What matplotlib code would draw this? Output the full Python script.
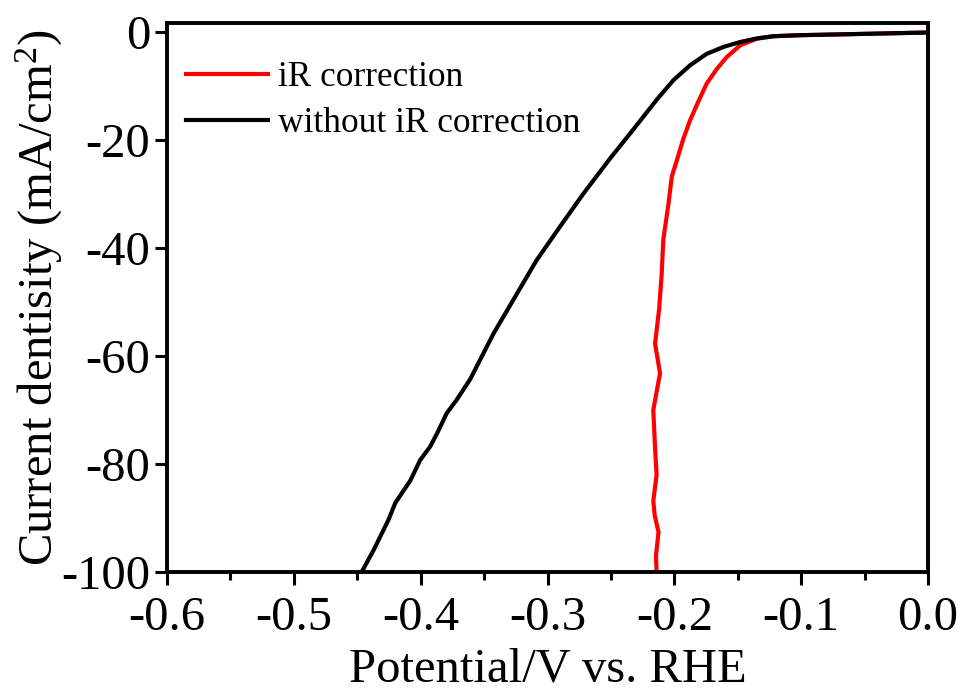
import matplotlib
matplotlib.use('Agg')
import matplotlib.pyplot as plt
from matplotlib.ticker import MultipleLocator, FormatStrFormatter

plt.rcParams['font.family'] = 'Liberation Serif'
plt.rcParams['mathtext.fontset'] = 'custom'
plt.rcParams['mathtext.rm'] = 'Liberation Serif'
plt.rcParams['mathtext.it'] = 'Liberation Serif:italic'
plt.rcParams['axes.unicode_minus'] = False

# LSV data (V vs RHE, mA/cm2)
pot_raw = [-0.4465, -0.437, -0.432, -0.4255, -0.420, -0.408, -0.4005, -0.3926,
           -0.387, -0.3795, -0.3716, -0.361, -0.3425, -0.327, -0.3085, -0.2901,
           -0.2717, -0.2507, -0.2323, -0.2139, -0.2008, -0.1875, -0.1745, -0.161,
           -0.148, -0.135, -0.122, -0.101, -0.06, -0.03, 0.0]
cur_raw = [-100, -95.9, -93.5, -90.4, -87.2, -83.0, -79.3, -76.8,
           -74.3, -70.6, -68.1, -64.3, -55.8, -49.6, -42.2, -36.0,
           -29.9, -23.4, -18.0, -12.5, -8.9, -6.1, -4.0, -2.7,
           -1.8, -1.15, -0.74, -0.55, -0.35, -0.2, -0.05]

pot_ir = [-0.214, -0.2145, -0.2125, -0.2155, -0.2166, -0.214, -0.2152, -0.2166,
          -0.2135, -0.2113, -0.2152, -0.212, -0.210, -0.2087, -0.2047, -0.202,
          -0.198, -0.193, -0.1876, -0.181, -0.1745, -0.1665, -0.1587, -0.148,
          -0.135, -0.122, -0.101, -0.06, -0.03, 0.0]
cur_ir = [-100, -97.0, -92.6, -89.5, -86.8, -82.0, -77.1, -70.0,
          -66.0, -63.2, -57.7, -51.3, -44.8, -38.4, -31.9, -26.7,
          -23.7, -19.8, -16.3, -12.8, -9.5, -6.8, -4.6, -2.4,
          -1.2, -0.74, -0.55, -0.35, -0.2, -0.05]

fig = plt.figure(figsize=(9.63, 6.95), dpi=100)
ax = fig.add_axes([0.1734, 0.177, 0.7903, 0.7906])

ax.plot(pot_ir, cur_ir, color='#ff0000', lw=3, label='iR correction')
ax.plot(pot_raw, cur_raw, color='black', lw=3, label='without iR correction')

ax.set_xlim(-0.6, 0.0)
ax.set_ylim(-100, 1.8)
ax.xaxis.set_major_locator(MultipleLocator(0.1))
ax.xaxis.set_minor_locator(MultipleLocator(0.05))
ax.yaxis.set_major_locator(MultipleLocator(20))
ax.xaxis.set_major_formatter(FormatStrFormatter('%.1f'))

for s in ax.spines.values():
    s.set_linewidth(2.8)
ax.tick_params(which='major', direction='out', length=9, width=2.2, labelsize=35, pad=3)
ax.tick_params(axis='x', which='major', pad=8)
ax.tick_params(which='minor', direction='out', length=6, width=2.2)
ax.tick_params(top=False, right=False, which='both')

ax.set_xlabel('Potential/V vs. RHE', fontsize=35, labelpad=6)
ax.set_ylabel('Current dentisity (mA/cm$^2$)', fontsize=35, labelpad=-3)

ax.legend(loc='upper left', bbox_to_anchor=(0.0, 0.965), frameon=False, fontsize=25.4,
          handlelength=2.3, handletextpad=0.3, labelspacing=0.36, borderaxespad=0.15)

fig.savefig('out.png', dpi=100)
